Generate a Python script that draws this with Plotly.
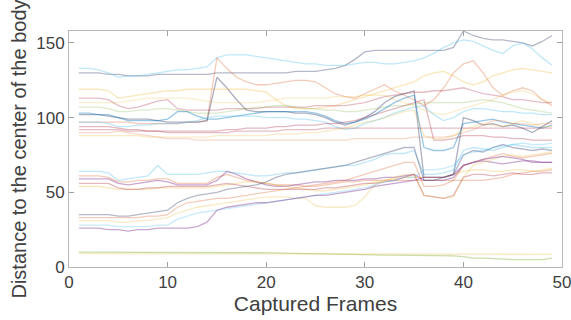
import plotly.graph_objects as go

frames = list(range(1, 50))

s01 = [130,130,130,129,129,128,128,128,129,129,
       129,129,129,129,130,130,130,130,130,130,
       130,130,131,131,131,132,133,135,139,144,
       145,145,145,145,145,145,145,145,147,158,
       155,153,152,152,151,150,148,151,155]
s02 = [133,133,132,130,127,128,128,129,130,131,
       132,132,133,134,140,142,142,142,141,140,
       139,138,137,136,136,135,135,135,136,137,
       137,136,136,137,138,140,143,147,150,152,
       151,148,145,143,148,150,146,140,135]
s03 = [97,97,97,97,97,97,96,96,96,96,
       96,97,97,98,140,133,127,124,122,122,
       123,124,125,125,124,120,116,114,113,116,
       119,122,118,115,112,108,112,120,130,136,
       138,130,120,115,118,120,118,112,108]
s04 = [102,102,102,101,100,99,99,99,98,97,
       97,97,97,98,127,120,112,105,104,104,
       104,104,103,103,102,100,97,95,97,100,
       104,110,114,116,118,60,60,60,62,100,
       98,95,96,94,95,93,90,94,98]
s05 = [119,119,119,118,113,114,115,116,117,118,
       118,119,119,119,119,119,119,119,118,117,
       112,108,106,106,106,107,108,110,112,114,
       116,118,120,122,124,128,130,131,128,124,
       122,124,128,130,132,133,132,131,130]
s06 = [113,113,113,112,108,106,107,109,111,112,
       106,105,105,105,105,106,106,106,106,107,
       107,107,107,107,108,108,108,108,109,110,
       112,114,115,116,117,117,118,118,119,120,
       118,116,115,114,112,112,111,110,110]
s07 = [110,110,110,110,110,111,112,113,113,113,
       113,113,112,111,110,110,110,110,110,111,
       112,113,113,113,113,113,114,114,114,115,
       115,115,112,110,108,105,103,102,104,106,
       108,110,112,115,117,118,116,112,110]
s08 = [107,107,107,106,104,104,105,105,106,106,
       105,104,103,103,103,104,105,106,107,107,
       108,108,107,106,106,105,105,104,104,105,
       106,107,108,108,109,110,110,110,110,110,
       111,112,111,110,108,106,105,104,103]
s09 = [103,103,102,102,100,98,98,98,98,99,
       104,104,101,99,99,100,101,102,103,104,
       104,104,104,104,103,101,98,96,97,99,
       102,106,110,113,115,80,78,78,80,96,
       97,98,99,97,96,95,94,93,95]
s10 = [97,97,97,96,94,94,95,95,96,96,
       96,97,98,100,101,101,101,101,101,100,
       100,100,99,99,98,97,94,92,93,96,
       98,100,103,105,107,108,102,98,100,104,
       106,106,105,104,104,103,103,102,102]
s11 = [94,94,94,94,93,92,92,91,91,91,
       91,91,91,91,91,92,92,93,93,93,
       94,94,95,95,95,96,96,97,98,100,
       102,104,106,108,110,112,85,85,86,88,
       88,88,87,87,86,86,85,85,85]
s12 = [92,92,92,92,92,91,91,91,91,90,
       90,90,90,90,90,90,91,91,91,91,
       91,92,92,92,92,93,93,93,93,93,
       93,93,93,93,93,93,93,93,93,93,
       93,93,93,93,93,93,93,93,93]
s13 = [90,90,90,90,91,90,89,88,87,86,
       86,86,85,85,85,85,85,85,85,85,
       85,85,85,85,85,85,85,85,86,86,
       86,86,86,86,87,87,87,87,88,90,
       92,95,98,98,96,96,95,96,96]
s14 = [88,88,88,88,88,88,88,87,87,87,
       87,87,87,87,88,88,88,88,88,88,
       89,89,89,90,90,91,92,93,95,97,
       98,100,102,104,105,88,86,86,88,92,
       94,96,95,94,96,98,96,94,94]
m01 = [64,64,64,63,58,59,60,61,68,62,
       62,62,62,63,64,64,63,62,61,61,
       62,63,63,64,65,66,67,68,68,70,
       72,75,76,76,78,62,62,63,65,78,
       80,79,78,80,82,81,80,80,80]
m02 = [61,61,61,60,57,57,58,58,59,59,
       56,56,56,56,60,62,60,58,57,56,
       55,55,55,54,54,55,56,57,57,58,
       58,58,58,58,58,58,58,58,58,58,
       58,58,59,60,62,63,64,64,65]
m03 = [59,59,59,59,56,55,56,57,58,57,
       55,55,55,55,58,64,62,59,57,55,
       54,54,55,56,57,57,58,58,58,59,
       59,60,60,61,62,58,58,58,60,68,
       70,71,70,69,70,71,71,70,70]
m04 = [54,54,54,53,52,52,52,52,53,53,
       53,53,53,53,54,55,56,57,57,56,
       55,54,53,52,51,51,52,53,54,55,
       57,58,59,60,60,60,60,60,62,64,
       65,65,64,64,65,65,64,65,66]
m05 = [56,56,56,56,53,52,52,53,53,54,
       54,54,54,54,55,56,55,54,53,52,
       52,52,52,52,52,53,53,54,55,56,
       56,57,58,60,62,48,47,46,48,60,
       62,62,61,62,63,62,62,63,63]
l01 = [35,35,35,35,34,34,35,36,37,38,
       43,46,48,49,50,52,53,54,55,57,
       60,62,63,64,65,66,67,68,70,72,
       74,76,78,80,80,58,58,60,62,75,
       78,77,80,82,80,79,78,79,78]
l02 = [33,33,33,33,33,33,33,34,34,35,
       40,43,44,45,46,46,47,48,49,50,
       51,52,53,54,55,56,57,58,60,62,
       64,66,68,70,70,54,54,55,58,68,
       70,72,74,76,74,73,74,75,76]
l03 = [31,31,31,31,30,30,31,31,32,33,
       36,38,40,41,42,43,44,45,46,47,
       47,47,46,46,41,40,40,40,41,47,
       55,58,60,62,62,48,47,46,47,60,
       68,70,72,74,75,74,75,76,77]
l04 = [28,28,28,28,27,27,27,27,28,28,
       32,34,36,37,38,39,40,41,42,43,
       44,45,46,47,48,49,50,51,52,53,
       55,57,58,60,60,65,65,66,68,75,
       77,78,80,81,82,83,82,82,83]
l05 = [26,26,26,25,25,24,25,25,26,26,
       26,26,27,30,38,40,41,42,43,43,
       44,45,46,47,48,48,49,50,51,52,
       54,55,56,57,58,60,60,60,62,68,
       70,72,73,74,73,72,70,70,70]
b01 = [10,10,10,10,10,9.5,9.5,9.5,9.5,9.5,
       9.5,9.5,9.5,9.5,9.5,9.5,9.5,9.5,9.5,9.5,
       9.5,9.3,9,9,9,8.8,8.5,8.5,8.5,8.3,
       8,8,8,8,8,8,8,8,7.5,7,
       6,6,5.5,5.5,5,5,5,5,6]
b02 = [9,9,9,9,9,9,9,9,9,9,
       9,9,9,9,9,9,9,9,9,9,
       9,9,9,9,9,9,9,9,9,9,
       9,9,9,9,9,9,9,9,9,9,
       8.5,8.5,8.5,8.5,8.5,8.5,8.5,8.5,8.5]

series = [s01, s02, s03, s04, s05, s06, s07, s08, s09, s10, s11, s12, s13, s14,
          m01, m02, m03, m04, m05, l01, l02, l03, l04, l05, b01, b02]

BLUE = "rgba(0,114,189,{a})"
ORANGE = "rgba(217,83,25,{a})"
YELLOW = "rgba(237,177,32,{a})"
PURPLE = "rgba(126,47,142,{a})"
GREEN = "rgba(119,172,48,{a})"
CYAN = "rgba(77,190,238,{a})"
RED = "rgba(162,20,47,{a})"
GRAYBLUE = "rgba(70,80,120,{a})"
styles = [
    (GRAYBLUE, 0.4), (CYAN, 0.35), (ORANGE, 0.3), (GRAYBLUE, 0.45), (YELLOW, 0.3),
    (RED, 0.28), (YELLOW, 0.22), (GREEN, 0.25), (BLUE, 0.4), (CYAN, 0.35),
    (RED, 0.3), (RED, 0.28), (ORANGE, 0.22), (YELLOW, 0.25),
    (CYAN, 0.35), (ORANGE, 0.3), (PURPLE, 0.42), (YELLOW, 0.3), (RED, 0.3),
    (GRAYBLUE, 0.4), (ORANGE, 0.3), (YELLOW, 0.25), (CYAN, 0.3), (PURPLE, 0.42),
    (GREEN, 0.4), (YELLOW, 0.25),
]

fig = go.Figure()
for vals, (col, a) in zip(series, styles):
    fig.add_trace(go.Scatter(x=frames, y=vals, mode="lines",
                             line=dict(color=col.format(a=a), width=1.3),
                             showlegend=False, hoverinfo="skip"))

axis_common = dict(showgrid=False, zeroline=False, showline=True, mirror="ticks",
                   linecolor="#b8b8b8", linewidth=1, ticks="inside", ticklen=5,
                   tickcolor="#a0a0a0", automargin=False, ticklabeloverflow="allow",
                   tickfont=dict(family="Liberation Sans", size=17, color="#404040"))
fig.update_layout(
    width=571, height=320,
    margin=dict(l=69, r=9, t=31, b=53),
    paper_bgcolor="white", plot_bgcolor="white",
    xaxis=dict(range=[0, 50], tickvals=[0, 10, 20, 30, 40, 50],
               title=dict(text="Captured Frames", standoff=0,
                          font=dict(family="Liberation Sans", size=21, color="#404040")),
               **axis_common),
    yaxis=dict(range=[0, 158], tickvals=[0, 50, 100, 150],
               title=dict(text="Distance to the center of the body", standoff=4,
                          font=dict(family="Liberation Sans", size=20, color="#404040")),
               **axis_common),
)
fig.write_html("out.html", config={"displayModeBar": False, "staticPlot": True},
               post_script="document.body.style.margin='0';document.body.style.overflow='hidden';")
